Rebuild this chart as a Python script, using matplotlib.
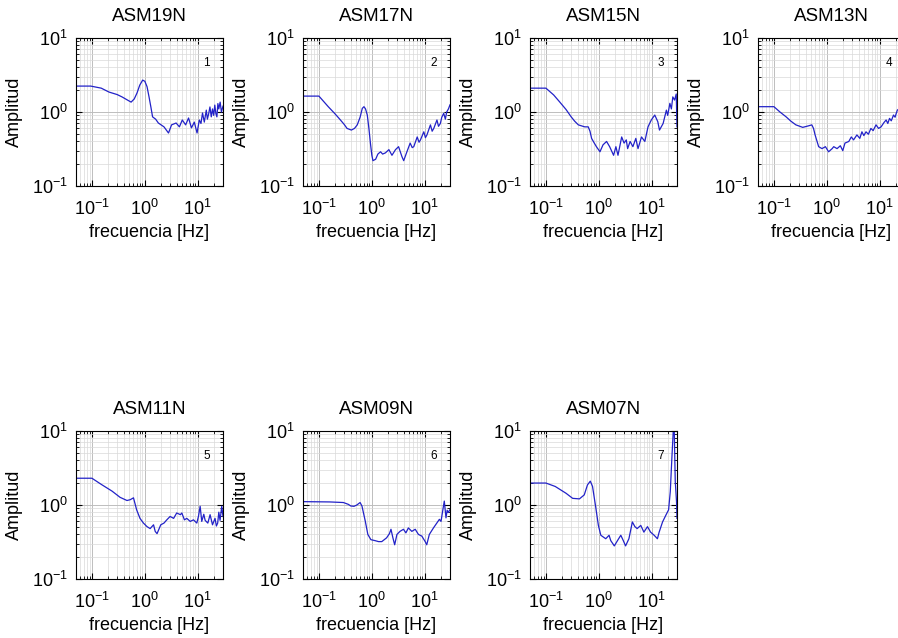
import matplotlib
matplotlib.use("Agg")
import matplotlib.pyplot as plt
from matplotlib.ticker import LogLocator, NullFormatter

plt.rcParams['font.family'] = ['Liberation Sans', 'DejaVu Sans']
plt.rcParams['mathtext.fontset'] = 'custom'
plt.rcParams['mathtext.rm'] = 'Liberation Sans'
plt.rcParams['axes.unicode_minus'] = False

# station names and panel numbers
stations = ['ASM19N', 'ASM17N', 'ASM15N', 'ASM13N', 'ASM11N', 'ASM09N', 'ASM07N']
numbers = ['1', '2', '3', '4', '5', '6', '7']

# spectral ratio curves (frequency in Hz, amplitude)
f_19 = [0.05, 0.095, 0.15, 0.21, 0.3, 0.37, 0.47, 0.55, 0.63, 0.71, 0.8, 0.91, 1.0, 1.1, 1.2, 1.3,
        1.4, 1.6, 1.8, 2.3, 2.8, 3.2, 3.9, 4.5, 5.1, 5.9, 6.7, 7.6, 8.6, 9.7, 10.7, 11.5, 12.3,
        13.3, 14.5, 15.2, 16, 17, 18, 19, 20, 21, 22, 23, 24, 25, 26.5, 28, 30]
a_19 = [2.24, 2.24, 2.1, 1.86, 1.72, 1.6, 1.45, 1.36, 1.5, 1.8, 2.3, 2.7, 2.6, 2.2, 1.6, 1.17,
        0.86, 0.8, 0.71, 0.63, 0.52, 0.67, 0.71, 0.63, 0.78, 0.67, 0.83, 0.61, 0.73, 0.52, 0.78, 0.7, 0.97,
        0.73, 1.06, 0.8, 0.93, 1.17, 0.86, 1.1, 0.9, 1.24, 0.95, 0.86, 1.3, 1.1, 1.36, 1.0, 1.2]

f_17 = [0.05, 0.1, 0.15, 0.2, 0.24, 0.3, 0.34, 0.41, 0.47, 0.53, 0.6, 0.66, 0.71, 0.76, 0.82,
        0.88, 0.94, 1.0, 1.05, 1.18, 1.3, 1.46, 1.6, 1.8, 2.1, 2.4, 2.8, 3.2, 3.7, 4.0, 4.6, 5.3,
        5.8, 6.2, 7.2, 7.8, 8.3, 9.6, 10.3, 11, 12.8, 13.8, 14.8, 17, 18.2, 19.7, 21, 22.8, 24.5, 26, 28, 30]
a_17 = [1.64, 1.64, 1.18, 0.95, 0.82, 0.68, 0.60, 0.57, 0.6, 0.67, 0.85, 1.12, 1.18, 1.1, 0.91,
        0.6, 0.38, 0.26, 0.22, 0.23, 0.27, 0.29, 0.27, 0.28, 0.31, 0.26, 0.31, 0.34, 0.25, 0.22, 0.29, 0.38,
        0.33, 0.34, 0.46, 0.39, 0.42, 0.54, 0.45, 0.49, 0.67, 0.55, 0.60, 0.78, 0.64, 0.70, 0.85, 0.96, 0.8, 1.0, 1.1, 1.25]

f_15 = [0.05, 0.1, 0.14, 0.18, 0.24, 0.30, 0.35, 0.41, 0.54, 0.63, 0.68, 0.73, 0.82, 0.90, 1.05,
        1.2, 1.4, 1.6, 1.9, 2.1, 2.3, 2.7, 3.0, 3.3, 3.5, 3.9, 4.4, 5.0, 5.5, 6.4, 7.4, 8.5, 9.8,
        11.4, 13, 14, 16.4, 18.9, 20, 22, 23.5, 25, 27, 29, 30]
a_15 = [2.1, 2.1, 1.7, 1.38, 1.08, 0.86, 0.75, 0.67, 0.63, 0.63, 0.55, 0.44, 0.38, 0.34, 0.29,
        0.36, 0.40, 0.34, 0.26, 0.34, 0.26, 0.46, 0.38, 0.42, 0.32, 0.40, 0.34, 0.44, 0.32, 0.46, 0.40, 0.63, 0.78,
        0.91, 0.74, 0.57, 0.70, 1.06, 0.9, 1.31, 1.1, 1.6, 1.45, 1.75, 0.63]

f_13 = [0.05, 0.1, 0.13, 0.17, 0.21, 0.26, 0.35, 0.45, 0.52, 0.56, 0.60, 0.70, 0.81, 0.94, 1.08,
        1.26, 1.35, 1.56, 1.8, 2.0, 2.2, 2.6, 2.9, 3.2, 3.7, 4.2, 4.6, 5.0, 5.5, 6.1, 6.8, 7.5,
        8.5, 9.5, 10.6, 12, 13.2, 14.2, 15.3, 16.5, 18.2, 19.5, 20.5, 21.5, 25, 29]
a_13 = [1.18, 1.18, 1.0, 0.86, 0.75, 0.67, 0.62, 0.65, 0.67, 0.6, 0.49, 0.34, 0.32, 0.34, 0.29,
        0.32, 0.34, 0.32, 0.35, 0.30, 0.38, 0.40, 0.46, 0.42, 0.49, 0.44, 0.54, 0.48, 0.54, 0.5, 0.60, 0.56,
        0.67, 0.6, 0.63, 0.72, 0.78, 0.7, 0.82, 0.76, 0.91, 0.85, 0.96, 1.06, 1.15, 1.25]

f_11 = [0.05, 0.1, 0.15, 0.24, 0.34, 0.46, 0.53, 0.61, 0.70, 0.81, 0.94, 1.1, 1.26, 1.46, 1.57,
        1.7, 2.0, 2.3, 2.6, 3.0, 3.5, 4.0, 4.7, 5.0, 5.6, 6.2, 7.2, 8.3, 9.6, 10.3, 11.1, 11.9,
        13.0, 13.8, 15.5, 17.1, 19, 21.2, 22.5, 23.8, 25, 26.4, 28.4, 30]
a_11 = [2.3, 2.3, 1.9, 1.54, 1.27, 1.15, 1.18, 1.25, 0.86, 0.66, 0.57, 0.51, 0.48, 0.54, 0.44,
        0.41, 0.54, 0.57, 0.63, 0.70, 0.66, 0.78, 0.74, 0.78, 0.63, 0.66, 0.60, 0.63, 0.57, 0.7, 0.96, 0.60,
        0.75, 0.62, 0.57, 0.74, 0.54, 0.66, 0.52, 0.57, 0.8, 0.62, 0.96, 0.70]

f_09 = [0.05, 0.16, 0.29, 0.36, 0.40, 0.46, 0.52, 0.60, 0.65, 0.75, 0.84, 0.96, 1.15, 1.34, 1.54,
        1.9, 2.15, 2.3, 2.5, 2.7, 2.98, 3.4, 3.96, 4.4, 4.9, 5.7, 6.6, 7.6, 8.8, 10.2, 10.9, 12.2,
        14.6, 16.9, 18.9, 20.3, 21.8, 23.4, 25.2, 26.5, 27.8, 30]
a_09 = [1.11, 1.1, 1.08, 1.02, 0.97, 0.96, 1.0, 1.08, 0.97, 0.61, 0.40, 0.34, 0.33, 0.32, 0.32,
        0.36, 0.41, 0.47, 0.36, 0.29, 0.40, 0.44, 0.47, 0.42, 0.49, 0.44, 0.47, 0.40, 0.38, 0.32, 0.29, 0.40,
        0.49, 0.57, 0.64, 0.6, 0.83, 1.13, 0.67, 0.85, 0.79, 0.87]

f_07 = [0.05, 0.1, 0.15, 0.24, 0.32, 0.43, 0.53, 0.61, 0.69, 0.76, 0.88, 0.98, 1.09, 1.35, 1.56,
        1.68, 1.96, 2.25, 2.6, 2.9, 3.2, 3.7, 4.3, 4.8, 5.3, 6.2, 7.1, 8.3, 9.5, 11.1, 12.8, 13.8,
        16, 18.5, 20.8, 22.4, 24, 25.5, 26.5, 27.8, 29.4, 30]
a_07 = [1.98, 1.98, 1.78, 1.44, 1.23, 1.21, 1.37, 1.87, 2.1, 1.78, 0.90, 0.53, 0.39, 0.35, 0.39,
        0.33, 0.28, 0.33, 0.39, 0.33, 0.28, 0.35, 0.59, 0.51, 0.48, 0.53, 0.43, 0.51, 0.43, 0.39, 0.35, 0.43,
        0.59, 0.73, 0.86, 1.52, 4.3, 10, 12, 2.1, 1.1, 0.66]

freqs = [f_19, f_17, f_15, f_13, f_11, f_09, f_07]
amps = [a_19, a_17, a_15, a_13, a_11, a_09, a_07]

W, H = 898, 638
fig = plt.figure(figsize=(W / 100, H / 100), dpi=100)

col_left = [76, 303, 530, 758]
row_top = [38, 431]
aw, ah = 147, 148

for i, name in enumerate(stations):
    r, c = divmod(i, 4)
    left = col_left[c]
    bottom = row_top[r] + ah
    ax = fig.add_axes([left / W, (H - bottom) / H, aw / W, ah / H])
    ax.plot(freqs[i], amps[i], color='#2222c8', lw=0.9)
    ax.set_xscale('log')
    ax.set_yscale('log')
    ax.set_xlim(0.05, 30)
    ax.set_ylim(0.1, 10)
    ax.xaxis.set_major_locator(LogLocator(base=10, numticks=10))
    ax.yaxis.set_major_locator(LogLocator(base=10, numticks=10))
    ax.xaxis.set_minor_locator(LogLocator(base=10, subs=range(2, 10), numticks=20))
    ax.yaxis.set_minor_locator(LogLocator(base=10, subs=range(2, 10), numticks=20))
    ax.xaxis.set_minor_formatter(NullFormatter())
    ax.yaxis.set_minor_formatter(NullFormatter())
    ax.grid(True, which='major', color='#bdbdbd', lw=0.7)
    ax.grid(True, which='minor', color='#d9d9d9', lw=0.5)
    ax.set_axisbelow(True)
    ax.tick_params(which='both', direction='in', top=True, right=True, labelsize=13)
    ax.tick_params(axis='x', which='major', pad=9)
    ax.tick_params(axis='y', which='major', pad=6)
    ax.tick_params(which='major', length=4)
    ax.tick_params(which='minor', length=2)
    for sp in ax.spines.values():
        sp.set_linewidth(0.8)
    ax.set_title(name, fontsize=13.5, pad=12)
    ax.set_xlabel('frecuencia [Hz]', fontsize=13, labelpad=4)
    ax.set_ylabel('Amplitud', fontsize=13, labelpad=6)
    ax.text(0.89, 0.83, numbers[i], transform=ax.transAxes, fontsize=8.5,
            ha='center', va='center')

fig.savefig('out.png', dpi=100)
